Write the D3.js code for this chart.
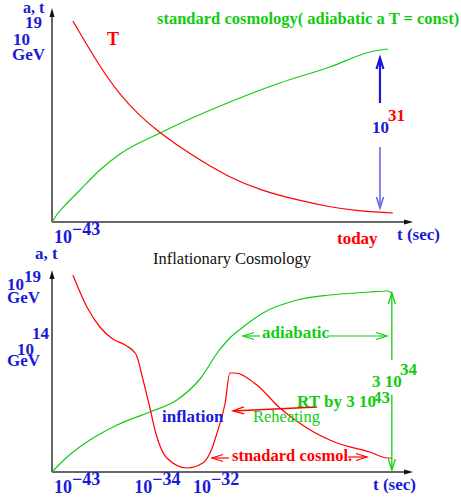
<!DOCTYPE html>
<html>
<head>
<meta charset="utf-8">
<script src="https://cdn.jsdelivr.net/npm/d3@7"></script>
<style>
  html, body { margin: 0; padding: 0; background: #fff; }
  svg { display: block; }
</style>
</head>
<body>
<div id="chart"></div>
<script>
// Standard vs inflationary cosmology sketch: scale factor a (green) and temperature T (red)
// Curve values are in sketch units, x: 0..100 along time axis, y: 0..100 up the axis.

// ── top panel: standard cosmology ──
const stdScale = [[0, 0], [1.7, 4.5], [4.2, 9.5], [7.8, 16], [13.3, 26], [18.9, 34],
  [30, 44.5], [49.4, 60], [63.3, 69.5], [77.2, 77.5], [88.3, 85], [93.3, 86.5]];
const stdTemp = [[5.8, 100.5], [13.3, 77.5], [18.9, 63.5], [24.4, 53], [30, 44.5], [38.3, 34],
  [49.4, 22], [58.6, 15.5], [68.1, 11], [77.2, 7.5], [84.7, 5.5], [94.7, 4.5]];

// ── bottom panel: inflationary cosmology ──
const infScale = [[0, 0], [4.2, 7.5], [9.7, 15], [18.1, 23.5], [27.2, 30], [34.7, 36],
  [41.1, 46.5], [46.1, 60], [49.4, 67], [53.1, 72.5], [58.6, 79.5], [68.1, 86],
  [77.2, 88.5], [88.3, 90], [93.1, 90.5], [94.4, 89.5]];
const infTemp = [[5.8, 98.5], [9.7, 82.5], [13.3, 72.5], [16.9, 66.5], [20.3, 63.5], [23.3, 59],
  [25.3, 46], [27.2, 32], [28.6, 21], [31.9, 7], [37.5, 2], [41.9, 4.5], [43.9, 9.5],
  [46.1, 21], [48.1, 34.5], [49.4, 49.5], [50.8, 49.5], [56.9, 43.5], [63.3, 32],
  [70.8, 22], [79.2, 14.5], [88.3, 10], [93.1, 7], [94.4, 7]];

// time labels (10^exp) under each axis, positioned in sketch units
const topTimeTicks = [{ u: 6.4, exp: "\u221243" }];
const botTimeTicks = [{ u: 6.4, exp: "\u221243" }, { u: 28.7, exp: "\u221234" }, { u: 45, exp: "\u221232" }];

// range arrows [u, v0, v1] (double arrow split round a label)
const stdRangeArrow = { u: 91.1, top: [59.5, 82], bot: [37.5, 7] };
const infRangeArrow = { u: 94.4, top: [56, 89.5], bot: [38.5, 1] };

const W = 461, H = 500;
const BLUE = "#1a1ad6", GREEN = "#11cc11", RED = "#ff0000", AXIS = "#333";
const SERIF = "'Liberation Serif', 'Times New Roman', Times, serif";

const svg = d3.select("#chart").append("svg")
  .attr("width", W).attr("height", H).attr("viewBox", `0 0 ${W} ${H}`);

const x = d3.scaleLinear().domain([0, 100]).range([52, 412]);
const yTop = d3.scaleLinear().domain([0, 100]).range([222, 22]);
const yBot = d3.scaleLinear().domain([0, 100]).range([472, 272]);

function label(txt, px, py, col, o = {}) {
  return svg.append("text")
    .attr("x", px).attr("y", py)
    .attr("text-anchor", o.anchor || "start")
    .attr("fill", col)
    .style("font-family", SERIF)
    .style("font-size", (o.size || 17) + "px")
    .style("font-weight", o.weight || "bold")
    .text(txt);
}

// open V arrowhead at (x2,y2) pointing along (x1,y1)->(x2,y2)
function arrow(x1, y1, x2, y2, col, w, head = true, len = 11, half = 3.5) {
  svg.append("line").attr("x1", x1).attr("y1", y1).attr("x2", x2).attr("y2", y2)
    .attr("stroke", col).attr("stroke-width", w);
  if (!head) return;
  const a = Math.atan2(y2 - y1, x2 - x1);
  const bx = x2 - len * Math.cos(a), by = y2 - len * Math.sin(a);
  const nx = -Math.sin(a) * half, ny = Math.cos(a) * half;
  svg.append("path")
    .attr("d", `M${bx + nx},${by + ny} L${x2},${y2} L${bx - nx},${by - ny}`)
    .attr("fill", "none").attr("stroke", col).attr("stroke-width", w);
}

function axes(y, vTip) {
  const x0 = x(0), y0 = y(0), xEnd = x(100.3), yEnd = y(vTip);
  svg.append("path").attr("d", `M${x0},${y0} H${xEnd - 6}`)
    .attr("stroke", AXIS).attr("stroke-width", 1.5).attr("fill", "none");
  svg.append("path").attr("d", `M${x0},${y0} V${yEnd + 6}`)
    .attr("stroke", AXIS).attr("stroke-width", 1.5).attr("fill", "none");
  svg.append("path").attr("d", `M${xEnd},${y0} L${xEnd - 9},${y0 - 2.5} L${xEnd - 9},${y0 + 2.5} Z`).attr("fill", "#111");
  svg.append("path").attr("d", `M${x0},${yEnd} L${x0 - 2.5},${yEnd + 9} L${x0 + 2.5},${yEnd + 9} Z`).attr("fill", "#111");
}

function curve(data, y, col, kind = d3.curveMonotoneX) {
  const line = d3.line().x(d => x(d[0])).y(d => y(d[1])).curve(kind);
  svg.append("path").attr("d", line(data))
    .attr("fill", "none").attr("stroke", col).attr("stroke-width", 1.2);
}

function timeTicks(ticks, y) {
  ticks.forEach(t => {
    const cx = x(t.u), by = y(0) + 21;
    label("10", cx - 3, by, BLUE, { anchor: "end", size: 18 });
    label(t.exp, cx - 3, by - 8, BLUE, { size: 18 });
  });
}

// ── top panel ──
axes(yTop, 107);
curve(stdScale, yTop, GREEN);
curve(stdTemp, yTop, RED, d3.curveBasis);
timeTicks(topTimeTicks, yTop);

label("a, t", 23, 13, BLUE, { size: 16 });
label("19", 25, 28, BLUE);
label("10", 13, 45, BLUE);
label("GeV", 12, 60, BLUE);
label("T", 107, 45, RED, { size: 18 });
label("standard cosmology( adiabatic a T = const)", 157, 24, GREEN, { size: 16.5 });
label("today", 337, 244, RED);
label("t  (sec)", 397, 240, BLUE);

{
  const a = stdRangeArrow, ax = x(a.u);
  arrow(ax, yTop(a.top[0]), ax, yTop(a.top[1]), BLUE, 2.2);
  arrow(ax, yTop(a.bot[0]), ax, yTop(a.bot[1]), "#6868ee", 1.6);
  label("10", 372, 133, BLUE);
  label("31", 388, 121, RED);
}

// ── bottom panel ──
label("Inflationary Cosmology", 153, 264, "#111", { weight: "normal", size: 16.5 });
axes(yBot, 101);
curve(infScale, yBot, GREEN);
curve(infTemp, yBot, RED);
timeTicks(botTimeTicks, yBot);

label("a, t", 35, 259, BLUE);
label("10", 7, 290, BLUE);
label("19", 24, 282, BLUE);
label("GeV", 7, 303, BLUE);
label("14", 32, 339, BLUE);
label("10", 17, 355, BLUE);
label("GeV", 7, 366, BLUE);
label("t (sec)", 373, 490, BLUE);

{
  const a = infRangeArrow, ax = x(a.u);
  arrow(ax, yBot(a.top[0]), ax, yBot(a.top[1]), GREEN, 1.3);
  arrow(ax, yBot(a.bot[0]), ax, yBot(a.bot[1]), GREEN, 1.3);
  label("3 10", 372, 387, GREEN);
  label("34", 400, 375, GREEN);
}

// adiabatic double arrow
arrow(260, 336, 243, 336, GREEN, 1.2);
arrow(327, 336, 387, 336, GREEN, 1.2);
label("adiabatic", 262, 338, GREEN);

// reheating
arrow(317, 407, 233, 411, RED, 1.3);
label("RT by 3 10", 297, 407, GREEN);
label("43", 373, 403, GREEN);
label("Reheating", 253, 422, GREEN, { weight: "normal", size: 16.5 });
label("inflation", 162, 422, BLUE);

// standard cosmology double arrow
arrow(229, 458, 212, 458, RED, 1.2);
arrow(348, 457, 367, 457, RED, 1.2);
label("stnadard cosmol.", 232, 461, RED, { size: 16.5 });
</script>
</body>
</html>
